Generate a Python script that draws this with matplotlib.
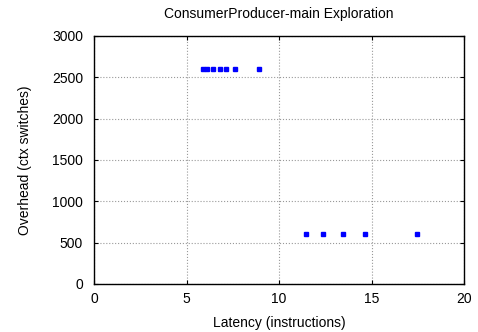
import matplotlib
matplotlib.use("Agg")
import matplotlib.pyplot as plt

plt.rcParams["font.family"] = ["Liberation Sans", "DejaVu Sans"]
plt.rcParams["font.size"] = 10

# --- Data ---
latency = [5.87, 6.12, 6.45, 6.83, 7.15, 7.64, 8.94,
           11.46, 12.36, 13.48, 14.66, 17.48]
overhead = [2600, 2600, 2600, 2600, 2600, 2600, 2600,
            600, 600, 600, 600, 600]
x_ticks = [0, 5, 10, 15, 20]
y_ticks = [0, 500, 1000, 1500, 2000, 2500, 3000]

fig = plt.figure(figsize=(4.78, 3.32), dpi=100)
ax = fig.add_axes([0.1967, 0.1446, 0.774, 0.747])

ax.plot(latency, overhead, linestyle="none", marker="s", markersize=3,
        color="#0000ff", markeredgecolor="#0000ff")

ax.set_xlim(0, 20)
ax.set_ylim(0, 3000)
ax.set_xticks(x_ticks)
ax.set_yticks(y_ticks)
ax.grid(True, linestyle=":", color="#999999", linewidth=0.8)
ax.tick_params(axis="y", direction="in", right=True, length=3, pad=8)
ax.tick_params(axis="x", direction="in", top=True, length=3, pad=6)
for s in ax.spines.values():
    s.set_linewidth(1)

ax.set_xlabel("Latency (instructions)", labelpad=7)
ax.set_ylabel("Overhead (ctx switches)", labelpad=14)
ax.set_title("ConsumerProducer-main Exploration", fontsize=10, pad=13)

fig.savefig("out.png", dpi=100)
